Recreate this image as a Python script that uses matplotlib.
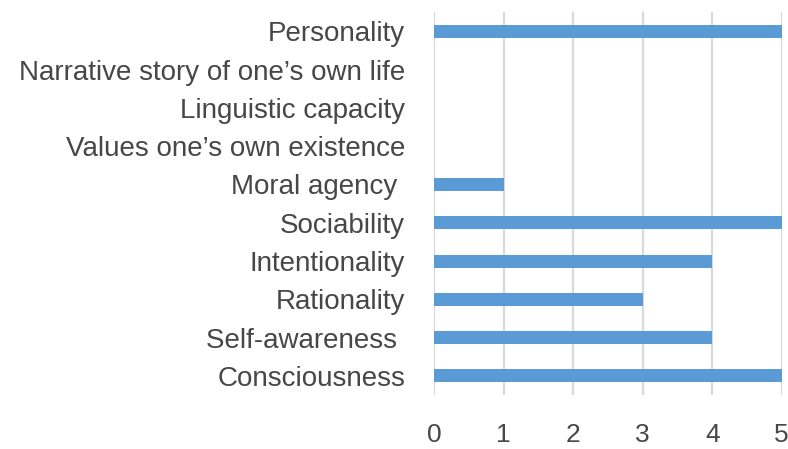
import matplotlib
matplotlib.use('Agg')
import matplotlib.pyplot as plt

categories = ['Consciousness', 'Self-awareness ', 'Rationality', 'Intentionality',
              'Sociability', 'Moral agency ', 'Values one\u2019s own existence',
              'Linguistic capacity', 'Narrative story of one\u2019s own life', 'Personality']
values = [5, 4, 3, 4, 5, 1, 0, 0, 0, 5]
xticks = [0, 1, 2, 3, 4, 5]

plt.rcParams['font.family'] = ['Liberation Sans', 'DejaVu Sans']

fig = plt.figure(figsize=(7.88, 4.49), dpi=100)
ax = fig.add_axes([0.551, 0.120, 0.441, 0.853])

ax.barh(range(len(categories)), values, height=0.34, color='#5b9bd5', zorder=3)

ax.set_xlim(0, 5)
ax.set_ylim(-0.5, len(categories) - 0.5)
ax.set_xticks(xticks)
ax.set_yticks(range(len(categories)))
ax.set_yticklabels(categories)
ax.xaxis.grid(True, color='#d9d9d9', linewidth=1.6, zorder=0)
ax.set_axisbelow(True)
for s in ax.spines.values():
    s.set_visible(False)
ax.tick_params(axis='both', length=0, labelsize=20, colors='#474747')
ax.tick_params(axis='x', pad=20, labelsize=19)
ax.tick_params(axis='y', pad=21)

fig.savefig('out.png', dpi=100)
